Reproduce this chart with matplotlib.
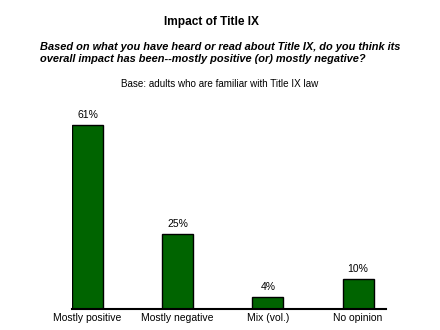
import numpy as np
import matplotlib
matplotlib.use('Agg')
import matplotlib.pyplot as plt

plt.rcParams['font.family'] = ['Liberation Sans', 'DejaVu Sans']

# Survey results
categories = ['Mostly positive', 'Mostly negative', 'Mix (vol.)', 'No opinion']
values = [61, 25, 4, 10]

fig = plt.figure(figsize=(4.4, 3.3), dpi=100)
ax = fig.add_axes([0.1636, 0.0636, 0.7136, 0.5857])

x = np.arange(len(categories))
ax.bar(x, values, width=0.344, color='#006400', edgecolor='black', linewidth=1)

# value labels on top of each bar
for xi, v in zip(x, values):
    ax.text(xi, v + 1.5, '%d%%' % v, ha='center', va='bottom', fontsize=7.5)

ax.set_xlim(-0.172, 3.31)
ax.set_ylim(0, 64)
ax.set_xticks(x)
ax.set_xticklabels(categories, fontsize=7.5)
ax.tick_params(axis='x', length=0, pad=3)
ax.set_yticks([])
for s in ['top', 'right', 'left']:
    ax.spines[s].set_visible(False)
ax.spines['bottom'].set_linewidth(1.5)

fig.text(0.48, 0.933, 'Impact of Title IX', ha='center', va='center',
         fontsize=8.6, fontweight='bold')
fig.text(0.091, 0.839, 'Based on what you have heard or read about Title IX, do you think its\n'
         'overall impact has been--mostly positive (or) mostly negative?',
         ha='left', va='center', fontsize=7.9, fontweight='bold', style='italic',
         linespacing=1.25)
fig.text(0.5, 0.745, 'Base: adults who are familiar with Title IX law', ha='center',
         va='center', fontsize=7.1)

fig.savefig('out.png', dpi=100)
